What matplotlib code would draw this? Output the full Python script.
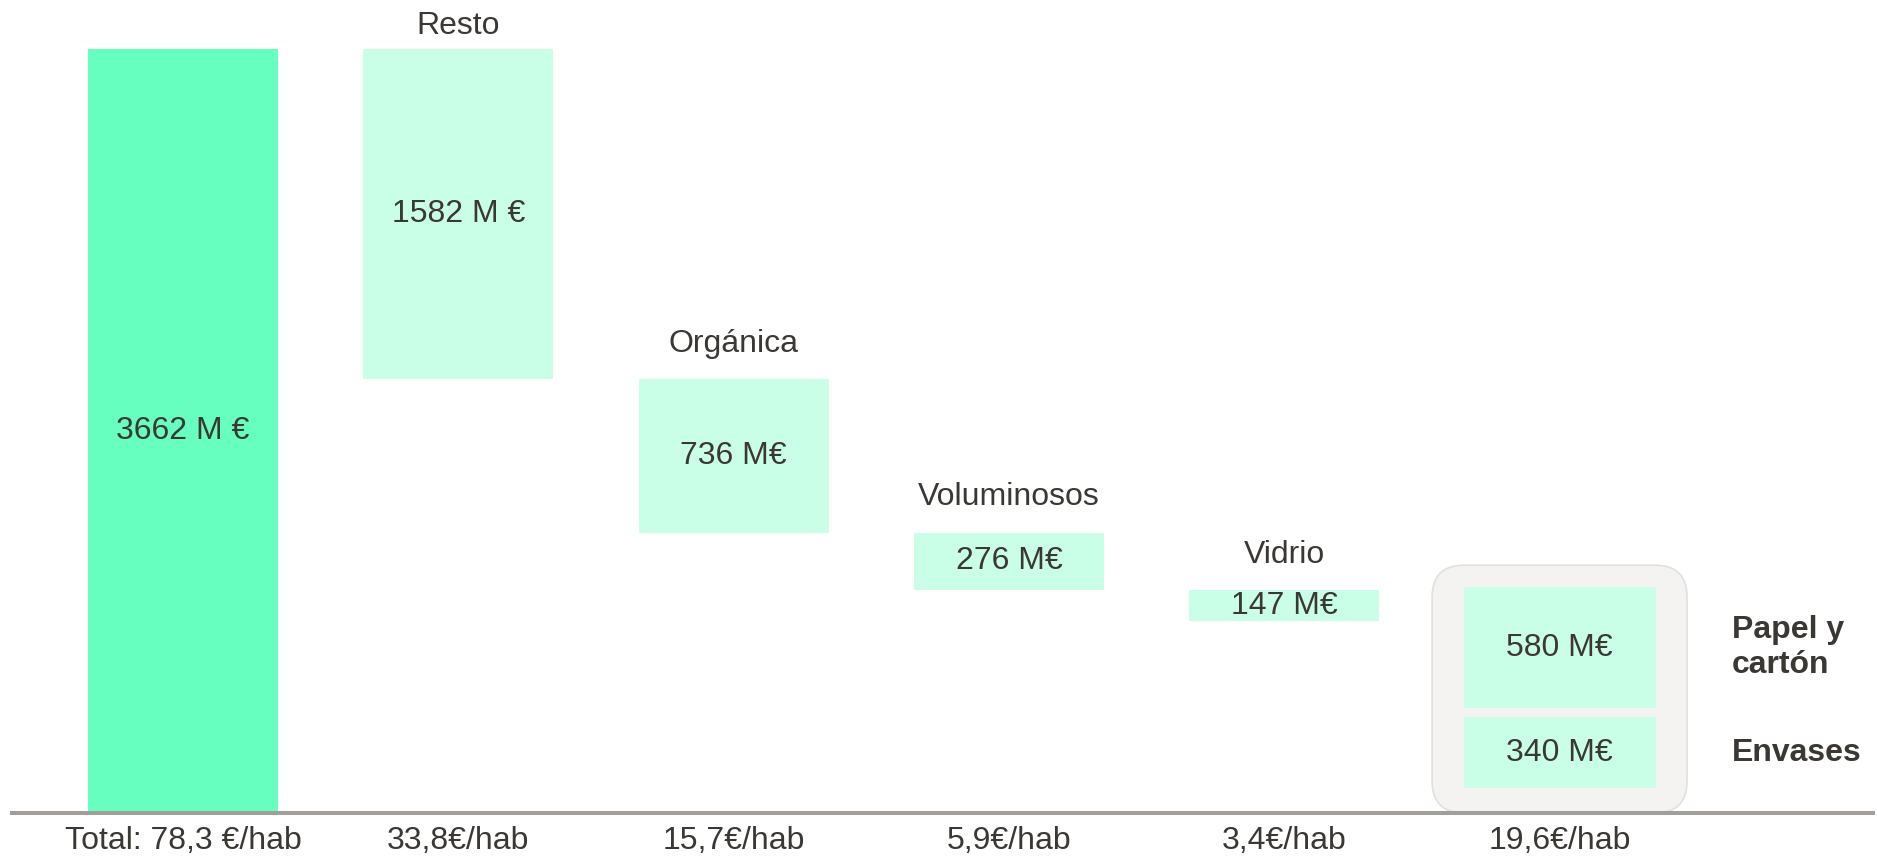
import matplotlib.pyplot as plt
from matplotlib.patches import FancyBboxPatch

# values (M EUR)
total = 3662
total_label = "3662 M €"
steps = ["Resto", "Orgánica", "Voluminosos", "Vidrio"]
step_values = [1582, 736, 276, 147]
step_labels = ["1582 M €", "736 M€", "276 M€", "147 M€"]
split_names = ["Envases", "Papel y\ncartón"]
split_values = [340, 580]
split_labels = ["340 M€", "580 M€"]
per_hab = ["Total: 78,3 €/hab", "33,8€/hab", "15,7€/hab", "5,9€/hab", "3,4€/hab", "19,6€/hab"]

GREEN = "#66FFC0"
LIGHT = "#C9FFE7"
TEXT = "#3B3834"
BOX_FACE = "#F4F3F2"
BOX_EDGE = "#E3DFDC"
LINE = "#A29E99"

plt.rcParams["font.family"] = ["Liberation Sans", "DejaVu Sans"]

fig = plt.figure(figsize=(18.77, 8.56), dpi=100)
ax = fig.add_axes([0, 0, 1, 1])
ax.set_xlim(-0.665, 6.153)
ax.set_ylim(-206, 3897)
ax.axis("off")

width = 0.69
fs = 23

# total bar
ax.bar(0, total, width=width, color=GREEN, zorder=2)
ax.text(0, total / 2, total_label, ha="center", va="center", fontsize=fs, color=TEXT, zorder=4)

# waterfall steps
top = total
for i, (name, v, lab) in enumerate(zip(steps, step_values, step_labels)):
    x = i + 1
    ax.bar(x, v, bottom=top - v, width=width, color=LIGHT, zorder=2)
    ax.text(x, top - v / 2, lab, ha="center", va="center", fontsize=fs, color=TEXT, zorder=4)
    name_y = min(top + 170, total + 112)
    ax.text(x, name_y, name, ha="center", va="center", fontsize=fs, color=TEXT)
    top -= v

# last group: split bars inside a rounded box
xs = len(steps) + 1
bottom = 120
gap = 43
for v, lab, name in zip(split_values, split_labels, split_names):
    ax.bar(xs, v, bottom=bottom, width=width + 0.007, color=LIGHT, zorder=2)
    ax.text(xs, bottom + v / 2, lab, ha="center", va="center", fontsize=fs, color=TEXT, zorder=4)
    ax.text(xs + 0.627, bottom + v / 2, name, ha="left", va="center", fontsize=fs,
            fontweight="bold", color=TEXT, linespacing=1.2)
    bottom += v + gap
box_top = bottom - gap + 105
box_w = 0.926
box = FancyBboxPatch((xs - box_w / 2, 0), box_w, box_top,
                     boxstyle="round,pad=0,rounding_size=0.116", mutation_aspect=1320,
                     facecolor=BOX_FACE, edgecolor=BOX_EDGE, linewidth=1.2, zorder=1)
ax.add_patch(box)

# baseline
ax.axhline(0, xmin=0.0064, xmax=0.998, color=LINE, linewidth=2.9, zorder=3)

# per-inhabitant labels under the axis
for i, lab in enumerate(per_hab):
    ax.annotate(lab, (i, 0), xytext=(0, -20), textcoords="offset points",
                ha="center", va="center", fontsize=fs, color=TEXT)

fig.savefig("out.png", dpi=100)
